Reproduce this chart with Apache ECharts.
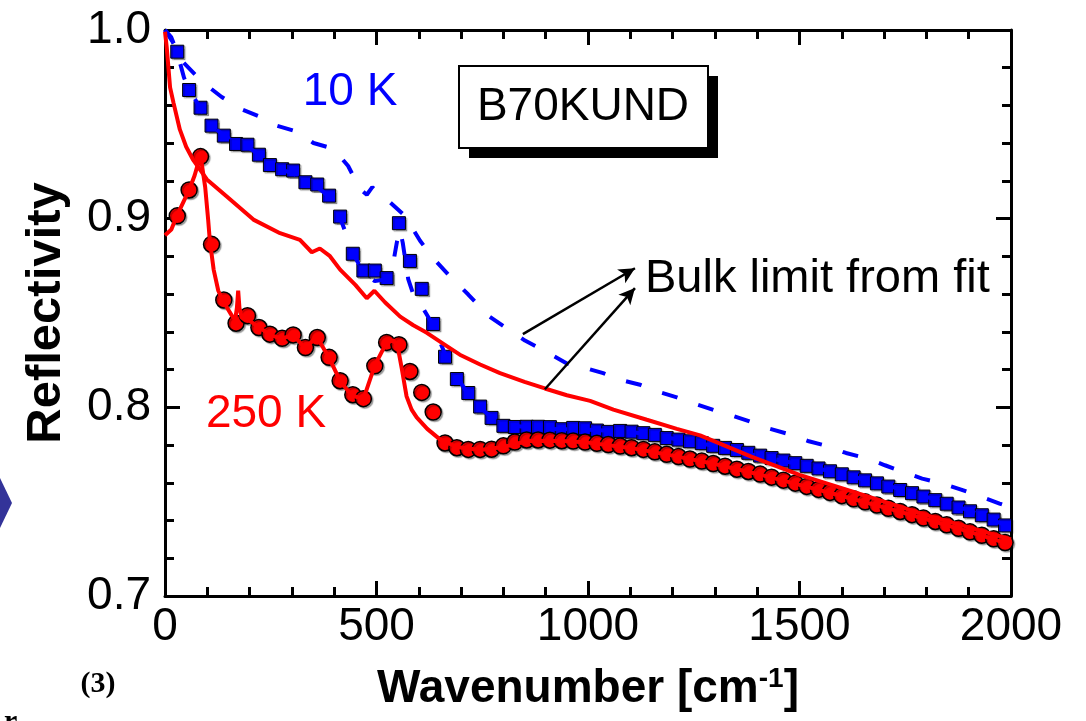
<!DOCTYPE html>
<html>
<head>
<meta charset="utf-8">
<script src="https://cdn.jsdelivr.net/npm/echarts@6/dist/echarts.min.js"></script>
<style>
html,body{margin:0;padding:0;background:#fff;}
#chart{width:1086px;height:721px;}
</style>
</head>
<body>
<div id="chart"></div>
<script>
// ---- data ----
const wavenumbers = [29,57,84,110,139,168,195,222,248,277,303,332,360,388,414,444,469,496,524,553,579,607,634,662,690,717,745,772,800,827,855,882,910,938,965,993,1021,1048,1076,1103,1131,1158,1186,1214,1241,1269,1296,1324,1352,1379,1407,1434,1462,1490,1517,1545,1572,1600,1628,1655,1683,1710,1738,1766,1793,1821,1848,1876,1903,1931,1959,1986];
const refl10K = [0.9885,0.9682,0.9588,0.9493,0.9440,0.9396,0.9392,0.9339,0.9284,0.9262,0.9255,0.9193,0.9181,0.9122,0.9011,0.8814,0.8725,0.8725,0.8685,0.8976,0.8776,0.8628,0.8442,0.8268,0.8150,0.8076,0.8004,0.7944,0.7902,0.7896,0.7897,0.7897,0.7895,0.7884,0.7891,0.7889,0.7877,0.7870,0.7875,0.7871,0.7863,0.7854,0.7837,0.7829,0.7820,0.7810,0.7796,0.7785,0.7774,0.7759,0.7744,0.7731,0.7718,0.7704,0.7690,0.7676,0.7661,0.7645,0.7629,0.7613,0.7597,0.7580,0.7562,0.7545,0.7527,0.7508,0.7489,0.7469,0.7449,0.7428,0.7405,0.7374];
const refl250K = [0.9015,0.9152,0.9329,0.8864,0.8569,0.8446,0.8486,0.8423,0.8388,0.8366,0.8384,0.8317,0.8370,0.8265,0.8141,0.8067,0.8046,0.8220,0.8344,0.8332,0.8190,0.8079,0.7975,0.7811,0.7786,0.7777,0.7777,0.7778,0.7796,0.7816,0.7827,0.7827,0.7826,0.7823,0.7821,0.7816,0.7809,0.7803,0.7795,0.7786,0.7777,0.7764,0.7751,0.7739,0.7726,0.7715,0.7702,0.7688,0.7672,0.7660,0.7646,0.7630,0.7614,0.7598,0.7581,0.7565,0.7549,0.7532,0.7515,0.7499,0.7482,0.7465,0.7448,0.7431,0.7413,0.7395,0.7377,0.7359,0.7340,0.7322,0.7303,0.7283];

const fit10K_x = [0,15,29,45,57,84,110,139,168,195,222,248,277,303,332,360,388,414,444,469,496,524,540,548,555,562,575,590,607,634,662,690,717,745,772,800,900,1000,1100,1200,1300,1400,1500,1600,1700,1800,1900,2000];
const fit10K_y = [1.000,0.9961,0.9879,0.9747,0.9686,0.9584,0.9493,0.9442,0.9401,0.9381,0.9340,0.9290,0.9259,0.9239,0.9198,0.9167,0.9117,0.9005,0.8822,0.8710,0.8669,0.8679,0.8771,0.8873,0.8944,0.8873,0.8679,0.8578,0.8537,0.8435,0.8283,0.8161,0.8069,0.7998,0.7947,0.7907,0.7886,0.7881,0.7871,0.7835,0.7795,0.7744,0.7698,0.7647,0.7591,0.7525,0.7454,0.7363];

const bulk10K_x = [0,20,43,87,134,177,221,264,311,351,398,433,461,477,490,532,567,603,634,678,717,764,804,851,894,950,989,1036,1076,1123,1162,1210,1251,1298,1343,1385,1430,1478,1522,1565,1610,1657,1702,1745,1790,1837,1882,1929,1973,2000];
const bulk10K_y = [1.000,0.9930,0.9829,0.9727,0.9645,0.9584,0.9544,0.9493,0.9462,0.9401,0.9371,0.9279,0.9157,0.9127,0.9167,0.9086,0.9015,0.8883,0.8791,0.8684,0.8598,0.8486,0.8425,0.8354,0.8303,0.8232,0.8212,0.8181,0.8146,0.8120,0.8085,0.8053,0.8020,0.7985,0.7955,0.7923,0.7886,0.7856,0.7820,0.7795,0.7758,0.7731,0.7693,0.7658,0.7622,0.7596,0.7564,0.7526,0.7490,0.7469];

const fit250K_x = [0,15,28,45,57,70,83,87,95,102,106,115,126,139,158,166,170,173,176,181,195,222,248,276,303,331,359,388,414,441,469,496,524,540,550,560,571,583,595,620,650,690,745,800,860,940,1000,1100,1200,1300,1400,1500,1600,1700,1800,1900,2000];
const fit250K_y = [0.8912,0.8942,0.9015,0.9096,0.9152,0.9229,0.9330,0.9290,0.9167,0.8995,0.8883,0.8730,0.8618,0.8557,0.8486,0.8466,0.8527,0.8618,0.8527,0.8476,0.8466,0.8425,0.8384,0.8364,0.8384,0.8313,0.8374,0.8262,0.8140,0.8064,0.8044,0.8222,0.8344,0.8354,0.8323,0.8202,0.8059,0.7988,0.7947,0.7886,0.7830,0.7790,0.7774,0.7790,0.7823,0.7821,0.7813,0.7785,0.7744,0.7700,0.7647,0.7589,0.7530,0.7470,0.7407,0.7341,0.7272];

const bulk250K_x = [0,4,12,20,35,50,67,99,146,209,272,319,347,366,390,414,450,477,495,520,556,587,619,660,697,745,792,850,898,950,1005,1060,1139,1210,1265,1386,1500,1626,1800,2000];
const bulk250K_y = [0.9991,0.9910,0.9696,0.9615,0.9473,0.9381,0.9310,0.9208,0.9117,0.8995,0.8923,0.8888,0.8822,0.8842,0.8801,0.8730,0.8649,0.8578,0.8618,0.8557,0.8481,0.8435,0.8395,0.8334,0.8279,0.8227,0.8181,0.8135,0.8100,0.8064,0.8034,0.7988,0.7934,0.7886,0.7851,0.7739,0.7642,0.7553,0.7429,0.7300];

const xTicks = [0,500,1000,1500,2000];
const yTicks = [0.7,0.8,0.9,1.0];

// ---- chart ----
const zip = (a,b) => a.map((v,i) => [v, b[i]]);
const FONT = '"Liberation Sans", Arial, sans-serif';
const SERIF = '"Liberation Serif", "Times New Roman", serif';
const BLUE = '#0000ff', RED = '#ff0000';

const chart = echarts.init(document.getElementById('chart'), null, {renderer:'canvas'});

const axisCommon = {
  axisLine:{show:true, onZero:false, lineStyle:{color:'#000', width:3}},
  axisTick:{show:true, inside:true, length:15, lineStyle:{color:'#000', width:3}},
  minorTick:{show:true, splitNumber:5, length:9, lineStyle:{color:'#000', width:3}},
  splitLine:{show:false}, minorSplitLine:{show:false}
};
const DASH = [16,22];

const option = {
  animation:false,
  backgroundColor:'#fff',
  grid:{left:165, right:75, top:30, bottom:125},
  xAxis:[
    Object.assign({}, axisCommon, {
      type:'value', min:xTicks[0], max:xTicks[xTicks.length-1], interval:500, position:'bottom',
      axisLabel:{show:true, color:'#000', fontSize:46, fontFamily:FONT, margin:8, formatter:v=>String(v)},
      name:'Wavenumber [cm{sup|-1}]', nameLocation:'middle', nameGap:69,
      nameTextStyle:{color:'#000', fontSize:46, fontWeight:'bold', fontFamily:FONT,
        rich:{sup:{fontSize:28, fontWeight:'bold', fontFamily:FONT, color:'#000', verticalAlign:'top', padding:[0,0,20,0]}}}
    }),
    Object.assign({}, axisCommon, {
      type:'value', min:xTicks[0], max:xTicks[xTicks.length-1], interval:500, position:'top',
      axisLabel:{show:false}
    })
  ],
  yAxis:[
    Object.assign({}, axisCommon, {
      type:'value', min:yTicks[0], max:yTicks[yTicks.length-1], interval:0.1, position:'left',
      axisLabel:{show:true, color:'#000', fontSize:46, fontFamily:FONT, margin:14, formatter:v=>v.toFixed(1)},
      name:'Reflectivity', nameLocation:'middle', nameGap:94, nameRotate:90,
      nameTextStyle:{color:'#000', fontSize:49, fontWeight:'bold', fontFamily:FONT}
    }),
    Object.assign({}, axisCommon, {
      type:'value', min:yTicks[0], max:yTicks[yTicks.length-1], interval:0.1, position:'right',
      axisLabel:{show:false}
    })
  ],
  series:[
    {type:'line', name:'10 K bulk limit', data:zip(bulk10K_x,bulk10K_y), showSymbol:false, silent:true,
      lineStyle:{color:BLUE, width:4, type:DASH}},
    {type:'line', name:'10 K fit', data:zip(fit10K_x,fit10K_y), showSymbol:false, silent:true,
      lineStyle:{color:BLUE, width:4, type:DASH}},
    {type:'scatter', name:'10 K', data:zip(wavenumbers,refl10K), symbol:'rect', symbolSize:13, silent:true,
      itemStyle:{color:BLUE, opacity:1, borderColor:'#000', borderWidth:1, shadowColor:'rgba(0,0,0,0.3)', shadowOffsetX:1.5, shadowOffsetY:1.5, shadowBlur:1}},
    {type:'line', name:'250 K fit', data:zip(fit250K_x,fit250K_y), showSymbol:false, silent:true,
      lineStyle:{color:RED, width:4}},
    {type:'scatter', name:'250 K', data:zip(wavenumbers,refl250K), symbol:'circle', symbolSize:16, silent:true,
      itemStyle:{color:RED, opacity:1, borderColor:'#000', borderWidth:1.5, shadowColor:'rgba(0,0,0,0.3)', shadowOffsetX:1.5, shadowOffsetY:1.5, shadowBlur:1}},
    {type:'line', name:'250 K bulk limit', data:zip(bulk250K_x,bulk250K_y), showSymbol:false, silent:true,
      lineStyle:{color:RED, width:4},
      markLine:{silent:true, symbol:['none','arrow'], symbolSize:[12,16], animation:false,
        label:{show:false}, lineStyle:{color:'#000', width:2.5, type:'solid'},
        data:[
          [{coord:[846,0.8388]},{coord:[1111,0.8737]}],
          [{coord:[898,0.8096]},{coord:[1111,0.8632]}]
        ]}}
  ],
  graphic:[
    {type:'rect', shape:{x:469, y:76, width:249, height:82}, style:{fill:'#000'}, z:10},
    {type:'rect', shape:{x:459, y:66, width:249, height:82}, style:{fill:'#fff', stroke:'#000', lineWidth:2}, z:11},
    {type:'text', x:583, y:107, z:12, style:{text:'B70KUND', font:'46px '+FONT, fill:'#000', align:'center', verticalAlign:'middle'}},
    {type:'text', x:350, y:92, z:12, style:{text:'10 K', font:'46px '+FONT, fill:BLUE, align:'center', verticalAlign:'middle'}},
    {type:'text', x:266, y:414, z:12, style:{text:'250 K', font:'46px '+FONT, fill:RED, align:'center', verticalAlign:'middle'}},
    {type:'text', x:645, y:279, z:12, style:{text:'Bulk limit from fit', font:'47px '+FONT, fill:'#000', align:'left', verticalAlign:'middle'}},
    {type:'polygon', shape:{points:[[0,478],[12,503],[0,528]]}, style:{fill:'#333399'}, z:10},
    {type:'text', x:98, y:684, z:12, style:{text:'(3)', font:'bold 30px '+SERIF, fill:'#000', align:'center', verticalAlign:'middle'}},
    {type:'text', x:4, y:707, z:12, style:{text:'r', font:'bold 30px '+SERIF, fill:'#000', align:'left', verticalAlign:'top'}}
  ]
};
chart.setOption(option);
</script>
</body>
</html>
